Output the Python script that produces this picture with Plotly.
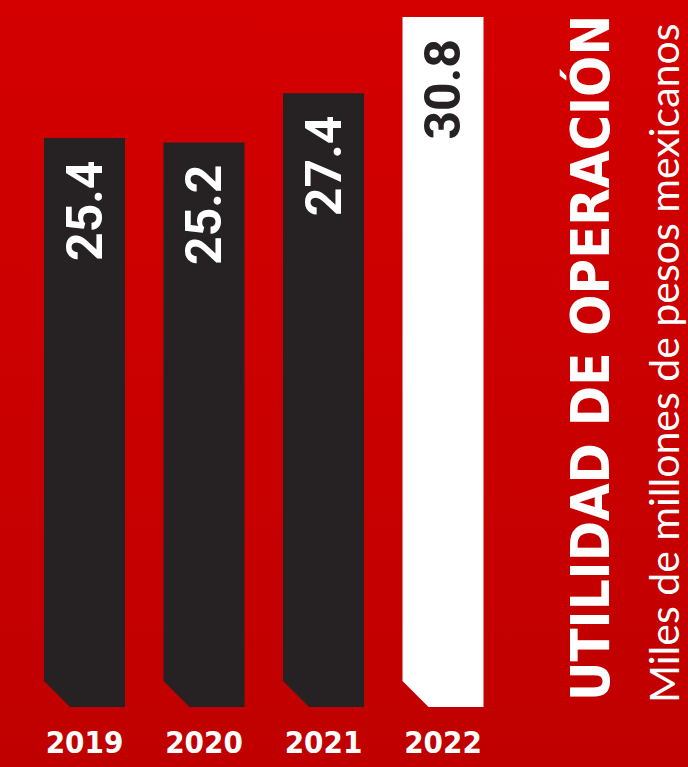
import plotly.graph_objects as go

years = ["2019", "2020", "2021", "2022"]
values = [25.4, 25.2, 27.4, 30.8]
value_labels = ["25.4", "25.2", "27.4", "30.8"]
bar_colors = ["#262223", "#262223", "#262223", "#ffffff"]
label_colors = ["#ffffff", "#ffffff", "#ffffff", "#262223"]
title_text = "UTILIDAD DE OPERACIÓN"
subtitle_text = "Miles de millones de pesos mexicanos"

W, H = 688, 767
PX_PER_UNIT = 22.4
BOTTOM_PX = 707
Y_MAX = BOTTOM_PX / PX_PER_UNIT
X_LEFT_PX, X_RIGHT_PX = 24.75, 502.75
PX_PER_X = (X_RIGHT_PX - X_LEFT_PX) / 4.0

half_w = 40.5 / PX_PER_X
cham_x = 26 / PX_PER_X
cham_y = 26 / PX_PER_UNIT

fig = go.Figure()

# background gradient (bottom layer subplot)
fig.add_trace(go.Scatter(
    x=[0, 1, 1, 0, 0], y=[0, 0, 1, 1, 0], xaxis="x", yaxis="y",
    mode="lines", line=dict(width=0), fill="toself",
    fillgradient=dict(type="vertical", colorscale=[[0, "#c00000"], [1, "#d40000"]]),
    hoverinfo="skip", showlegend=False,
))

for i, (v, c) in enumerate(zip(values, bar_colors)):
    xs = [i - half_w, i + half_w, i + half_w, i - half_w + cham_x, i - half_w, i - half_w]
    ys = [v, v, 0, 0, cham_y, v]
    fig.add_trace(go.Scatter(
        x=xs, y=ys, xaxis="x2", yaxis="y2", mode="lines", line=dict(width=0),
        fill="toself", fillcolor=c, hoverinfo="skip", showlegend=False,
    ))

annotations = []
for i, (v, t, c) in enumerate(zip(values, value_labels, label_colors)):
    annotations.append(dict(
        x=i, y=v, xref="x2", yref="y2", text=t, showarrow=False,
        textangle=-90, xanchor="center", yanchor="top", yshift=-20,
        font=dict(family="Roboto", size=50, color=c, weight="bold"),
    ))

annotations.append(dict(
    x=590 / W, y=(H - 358) / H, xref="paper", yref="paper", text=title_text,
    showarrow=False, textangle=-90, xanchor="center", yanchor="middle",
    font=dict(family="DejaVu Sans Condensed", size=54,
              color="#ffffff", weight="bold"),
))
annotations.append(dict(
    x=664 / W, y=(H - 364) / H, xref="paper", yref="paper", text=subtitle_text,
    showarrow=False, textangle=-90, xanchor="center", yanchor="middle",
    font=dict(family="Lato", size=41, color="#ffffff", weight=400),
))

fig.update_layout(
    width=W, height=H, margin=dict(l=0, r=0, t=0, b=0),
    paper_bgcolor="#c90000", plot_bgcolor="rgba(0,0,0,0)",
    showlegend=False, annotations=annotations,
    xaxis=dict(domain=[0, 1], range=[0, 1], visible=False, fixedrange=True),
    yaxis=dict(domain=[0, 1], range=[0, 1], visible=False, fixedrange=True),
    xaxis2=dict(domain=[X_LEFT_PX / W, X_RIGHT_PX / W], range=[-0.5, 3.5],
                anchor="y2",
                tickvals=list(range(len(years))), ticktext=years,
                showgrid=False, zeroline=False, showline=False, ticks="",
                tickfont=dict(family="DejaVu Sans Condensed",
                              size=31, color="#ffffff", weight="bold"),
                ticklabelstandoff=14, fixedrange=True),
    yaxis2=dict(domain=[(H - BOTTOM_PX) / H, 1], range=[0, Y_MAX], anchor="x2",
                showgrid=False, zeroline=False, showline=False,
                showticklabels=False, fixedrange=True),
)

fig.write_html("out.html", config={"displayModeBar": False},
               post_script="document.body.style.margin='0';")
